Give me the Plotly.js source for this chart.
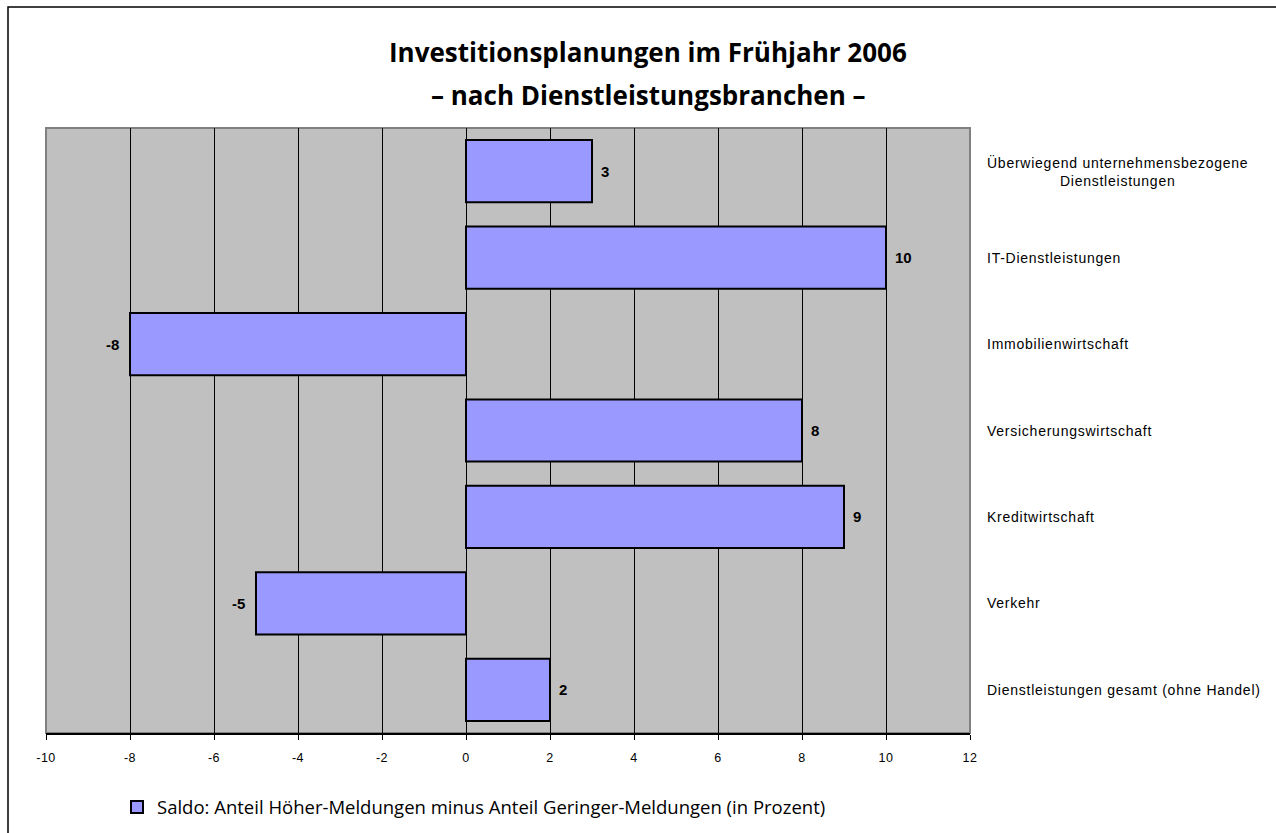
<!DOCTYPE html>
<html><head><meta charset="utf-8">
<script src="https://cdn.plot.ly/plotly-3.0.1.min.js"></script>
<style>
html,body{margin:0;padding:0;background:#fff}#chart{width:1276px;height:833px}
g.annotation[data-index="0"] text, g.annotation[data-index="1"] text, g.annotation[data-index="2"] text,
g.annotation[data-index="3"] text, g.annotation[data-index="4"] text, g.annotation[data-index="5"] text,
g.annotation[data-index="6"] text { letter-spacing: 0.75px; }
.xtick text { letter-spacing: 0.5px; }
</style>
</head><body><div id="chart"></div>
<script>
const categories = [
  "Überwiegend unternehmensbezogene<br>Dienstleistungen",
  "IT-Dienstleistungen",
  "Immobilienwirtschaft",
  "Versicherungswirtschaft",
  "Kreditwirtschaft",
  "Verkehr",
  "Dienstleistungen gesamt (ohne Handel)"
];
const values = [3, 10, -8, 8, 9, -5, 2];
const seriesName = "Saldo: Anteil Höher-Meldungen minus Anteil Geringer-Meldungen (in Prozent)";
const titleLine1 = "Investitionsplanungen im Frühjahr 2006";
const titleLine2 = "– nach Dienstleistungsbranchen –";
const xTicks = [-10, -8, -6, -4, -2, 0, 2, 4, 6, 8, 10, 12];

const trace = {
  type: 'bar', orientation: 'h',
  x: values, y: categories,
  name: seriesName,
  marker: {color: '#9999FF', line: {color: '#000000', width: 2}},
  width: 0.72,
  showlegend: true
};

const catAnnotations = categories.map(c => {
  const multi = c.indexOf('<br>') >= 0;
  return {
    xref: 'paper', yref: 'y', x: 1.0162, y: c, xanchor: 'left', yanchor: 'middle',
    xshift: multi ? 12 : 0,
    text: c, showarrow: false, align: multi ? 'center' : 'left',
    font: {family: 'Liberation Sans, Arial, sans-serif', size: 14, color: '#000'}
  };
});

const valueAnnotations = values.map((v, i) => ({
  xref: 'x', yref: 'y', x: v, y: categories[i],
  xanchor: v >= 0 ? 'left' : 'right', yanchor: 'middle',
  xshift: v >= 0 ? 7 : -9,
  text: '<b>' + v + '</b>', showarrow: false,
  font: {family: 'Liberation Sans, Arial, sans-serif', size: 15, color: '#000'}
}));

const titleAnnotations = [
  {xref: 'paper', yref: 'paper', x: (648 - 46) / 924, y: 1 + (128 - 52) / 605, xanchor: 'center', yanchor: 'middle',
   text: '<b>' + titleLine1 + '</b>', showarrow: false,
   font: {family: 'Open Sans, sans-serif', size: 26, color: '#000'}},
  {xref: 'paper', yref: 'paper', x: (648 - 46) / 924, y: 1 + (128 - 95) / 605, xanchor: 'center', yanchor: 'middle',
   text: '<b>' + titleLine2 + '</b>', showarrow: false,
   font: {family: 'Open Sans, sans-serif', size: 26, color: '#000'}}
];

const layout = {
  width: 1276, height: 833,
  margin: {l: 46, r: 306, t: 128, b: 100, autoexpand: false},
  paper_bgcolor: '#ffffff', plot_bgcolor: '#C0C0C0',
  xaxis: {
    range: [-10, 12], tickvals: xTicks, ticktext: xTicks.map(String),
    showgrid: true, gridcolor: '#000000', gridwidth: 1,
    zeroline: false, showline: true, linecolor: '#000', linewidth: 1.5,
    ticks: 'outside', ticklen: 5, tickcolor: '#000', tickwidth: 1,
    ticklabelstandoff: 7,
    tickfont: {family: 'Liberation Sans, Arial, sans-serif', size: 12.5, color: '#000'},
    fixedrange: true
  },
  yaxis: {
    type: 'category', autorange: 'reversed', showticklabels: false,
    showgrid: false, zeroline: false, showline: false, ticks: '', fixedrange: true
  },
  showlegend: true,
  legend: {
    orientation: 'h', x: (117 - 46) / 924, y: -0.123, xanchor: 'left', yanchor: 'middle',
    font: {family: 'Open Sans, sans-serif', size: 18.5, color: '#000'},
    bgcolor: 'rgba(0,0,0,0)', itemwidth: 30
  },
  annotations: catAnnotations.concat(titleAnnotations, valueAnnotations),
  shapes: [
    {type: 'rect', xref: 'paper', yref: 'paper', layer: 'below',
     x0: (8 - 46) / 924, x1: (1300 - 46) / 924, y0: (733 - 860) / 605, y1: 1 + (128 - 7) / 605,
     line: {color: '#000', width: 1.5}, fillcolor: 'rgba(0,0,0,0)'},
    {type: 'rect', xref: 'paper', yref: 'paper', layer: 'below',
     x0: 0, x1: 1, y0: 0, y1: 1, line: {color: '#808080', width: 2}, fillcolor: 'rgba(0,0,0,0)'}
  ]
};

Plotly.newPlot('chart', [trace], layout, {displayModeBar: false, staticPlot: true});
</script></body></html>
